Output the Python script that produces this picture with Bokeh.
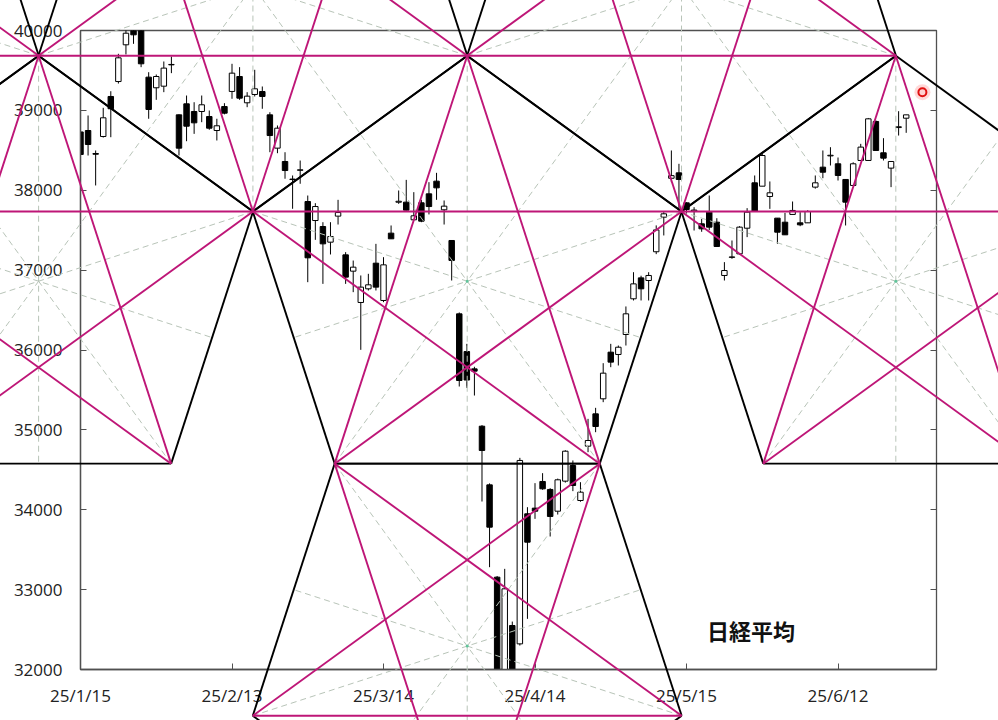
import math
from bokeh.plotting import figure
from bokeh.models import Range1d, LinearAxis, FixedTicker, Label, ColumnDataSource
from bokeh.embed import file_html
from bokeh.resources import INLINE

# ---------------- data ----------------
X_TICKS = [0, 20, 40, 60, 80, 100]
X_TICK_LABELS = ["25/1/15", "25/2/13", "25/3/14", "25/4/14", "25/5/15", "25/6/12"]
Y_TICKS = [32000, 33000, 34000, 35000, 36000, 37000, 38000, 39000, 40000]

OPEN = [38730, 38748, 38460, 38673, 39174, 39361, 39821, 40020, 40000, 39416,
        39283, 39303, 39575, 38944, 39082, 38986, 38986, 38923, 38748, 39048,
        39237, 39424, 39095, 39199, 39236, 38944, 38527, 38360, 38140, 38250,
        37859, 37621, 37546, 37350, 37676, 37191, 36987, 36595, 36766, 37087,
        36620, 37463, 37850, 37851, 37630, 37843, 37955, 38114, 37755, 37371,
        36453, 35981, 35764, 35046, 34312, 33156, 31800, 32551, 32321, 33949,
        34020, 34354, 34254, 33982, 34358, 34554, 34116, 34796, 35201, 35389,
        35973, 35944, 36194, 36641, 36903, 36870, 37230, 37663, 38150, 38218,
        37842, 37740, 37580, 37726, 37600, 36933, 37160, 37204, 37525, 38093,
        38051, 37922, 37651, 37600, 37697, 37592, 37592, 38039, 38289, 38430,
        38331, 38135, 38060, 38373, 38373, 38861, 38469, 38277, 38785, 38902]
HIGH = [38800, 38936, 38498, 39032, 39240, 39708, 40010, 40060, 40050, 39478,
        39449, 39612, 39674, 38950, 39186, 39102, 39186, 38998, 38895, 39090,
        39583, 39541, 39228, 39508, 39299, 38977, 38811, 38476, 38185, 38372,
        37934, 37838, 37600, 37600, 37880, 37225, 37120, 36933, 36954, 37329,
        37162, 37559, 37997, 38130, 37976, 37880, 38101, 38218, 37872, 37371,
        36470, 36077, 35790, 35060, 34330, 33170, 33260, 32600, 34650, 34032,
        34333, 34458, 34270, 34390, 34745, 34617, 34345, 35138, 35276, 35835,
        36077, 36056, 36545, 36974, 36930, 36974, 37560, 37726, 38498, 38331,
        37850, 37788, 37640, 37934, 37650, 37100, 37371, 37550, 37776, 38185,
        38455, 38110, 37651, 37717, 37859, 37726, 37750, 38185, 38498, 38539,
        38410, 38140, 38350, 38581, 38905, 38875, 38652, 38360, 38990, 38944]
LOW = [38400, 38435, 38060, 38660, 38664, 39336, 39700, 39833, 39541, 38895,
       39132, 39228, 39466, 38435, 38614, 38706, 38852, 38757, 38623, 38950,
       39145, 39132, 39040, 39174, 39020, 38476, 38464, 38144, 37768, 38081,
       36849, 37379, 36828, 37196, 37571, 36828, 36724, 36002, 36745, 36745,
       36599, 37392, 37830, 37746, 37625, 37600, 37697, 37880, 37571, 36870,
       35543, 35526, 35430, 34103, 33281, 30792, 31500, 31100, 32300, 32634,
       33886, 34250, 33665, 33940, 34340, 34233, 34100, 34721, 34971, 35347,
       35785, 35806, 36056, 36620, 36620, 36620, 37200, 37434, 38100, 37747,
       37700, 37496, 37480, 37500, 37290, 36870, 37142, 37190, 37413, 37730,
       38051, 37767, 37329, 37442, 37697, 37550, 37592, 38020, 38151, 38310,
       38122, 37559, 38060, 38373, 38373, 38498, 38373, 38039, 38685, 38719]
CLOSE = [38448, 38573, 38451, 38907, 39020, 39658, 39966, 39946, 39583, 39011,
         39424, 39529, 39570, 38527, 38802, 38844, 39070, 38777, 38807, 38965,
         39466, 39153, 39178, 39270, 39174, 38685, 38777, 38247, 38134, 38256,
         37154, 37796, 37329, 37421, 37721, 36912, 37037, 36787, 36816, 36787,
         37066, 37392, 37862, 37751, 37680, 37613, 37796, 38030, 37801, 37121,
         35618, 35624, 35735, 34742, 33782, 31136, 33010, 31714, 34617, 33594,
         33982, 34262, 33916, 34375, 34733, 34304, 34220, 34867, 35042, 35710,
         35848, 36035, 36453, 36828, 36766, 36933, 37503, 37705, 38183, 38135,
         37759, 37752, 37517, 37538, 37296, 36995, 37165, 37538, 37726, 37734,
         38435, 37968, 37475, 37442, 37747, 37567, 37734, 38093, 38226, 38438,
         38185, 37851, 38331, 38540, 38894, 38498, 38402, 38360, 38795, 38944]

# pentagon overlay construction (data units)
UP_CENTER_X = [-5.53, 51.05, 107.63]     # upright pentagon centres (trading-day index)
CENTER_PRICE = 36861                     # price level of the upright centres
PENTA_R = 2823                           # circumradius, in price units (vertical)
TOP_INVERTED = [-1, 0, 1]                # inverted pentagons between/left of upright ones
LOWER_INVERTED = [1]                     # inverted pentagon under the middle one
MARK_X = [111.14]
MARK_Y = [39228]
TITLE = "日経平均"
TITLE_X, TITLE_Y = 88.5, 32500

# ---------------- figure ----------------
W, H = 998, 720
BL, BR, BT, BB = 80, 62, 30, 51
X0, X1 = 0, 113
Y0, Y1 = 32000, 40000

p = figure(width=W, height=H, x_range=Range1d(X0, X1), y_range=Range1d(Y0, Y1),
           output_backend="svg", toolbar_location=None,
           min_border_left=BL, min_border_right=BR, min_border_top=BT, min_border_bottom=BB,
           background_fill_color="white", border_fill_color="white")
p.xgrid.visible = False
p.ygrid.visible = False
p.outline_line_color = "#505050"
p.outline_line_width = 1.3

FONT = "Open Sans"
for ax in (p.xaxis[0], p.yaxis[0]):
    ax.major_tick_in = 6
    ax.major_tick_out = 0
    ax.minor_tick_line_color = None
    ax.axis_line_color = "#505050"
    ax.axis_line_width = 1.3
    ax.major_tick_line_color = "#505050"
    ax.major_label_text_font = FONT
    ax.major_label_text_font_size = "17px"
    ax.major_label_text_color = "#222222"
p.xaxis.ticker = FixedTicker(ticks=X_TICKS)
p.xaxis.major_label_overrides = {t: l for t, l in zip(X_TICKS, X_TICK_LABELS)}
p.xaxis.major_label_standoff = 14
p.yaxis.ticker = FixedTicker(ticks=Y_TICKS)
p.yaxis.major_label_standoff = 18

rax = LinearAxis(ticker=FixedTicker(ticks=Y_TICKS), major_tick_in=6, major_tick_out=0,
                 minor_tick_line_color=None, major_label_text_color=None,
                 axis_line_color="#505050", major_tick_line_color="#505050")
p.add_layout(rax, "right")

# ---------------- candles ----------------
idx = list(range(len(OPEN)))
up = [c >= o for o, c in zip(OPEN, CLOSE)]
src = ColumnDataSource(dict(x=idx, o=OPEN, h=HIGH, l=LOW, c=CLOSE,
                            top=[max(o, c) for o, c in zip(OPEN, CLOSE)],
                            bot=[min(o, c) for o, c in zip(OPEN, CLOSE)],
                            fill=["white" if u else "black" for u in up]))
p.segment(x0="x", y0="h", x1="x", y1="l", source=src, line_color="black", line_width=1)
p.vbar(x="x", top="top", bottom="bot", width=0.72, source=src,
       fill_color="fill", line_color="black", line_width=1)

# ---------------- pentagon overlay ----------------
FW = W - BL - BR
FH = H - BT - BB
px_x = FW / (X1 - X0)
px_y = FH / (Y1 - Y0)
R_px = PENTA_R * px_y


def pentagon(cx, cy, upright):
    angs = [90, 18, -54, -126, 162] if upright else [-90, -18, 54, 126, 198]
    return [(cx + R_px * math.cos(math.radians(a)) / px_x,
             cy + R_px * math.sin(math.radians(a)) / px_y) for a in angs]


pents = [pentagon(cx, CENTER_PRICE, True) for cx in UP_CENTER_X]
half = (UP_CENTER_X[1] - UP_CENTER_X[0]) / 2
apo = R_px * math.cos(math.radians(36))
top_y = CENTER_PRICE + 2 * apo * math.sin(math.radians(54)) / px_y
low_y = CENTER_PRICE - 2 * apo / px_y
centres_inv = [(UP_CENTER_X[0] + half + k * 2 * half, top_y) for k in TOP_INVERTED]
centres_inv += [(UP_CENTER_X[k], low_y) for k in LOWER_INVERTED]
pents += [pentagon(cx, cy, False) for cx, cy in centres_inv]
centres = [(cx, CENTER_PRICE) for cx in UP_CENTER_X] + centres_inv

edges, diags, spokes = [], [], []
for pts in pents:
    for k in range(5):
        a, b = pts[k], pts[(k + 1) % 5]
        edges.append((a, b))
        d = pts[(k + 2) % 5]
        diags.append((a, d))
        m1, m2 = pts[(k + 2) % 5], pts[(k + 3) % 5]
        spokes.append((a, ((m1[0] + m2[0]) / 2, (m1[1] + m2[1]) / 2)))


def seg(lst, **kw):
    p.segment(x0=[s[0][0] for s in lst], y0=[s[0][1] for s in lst],
              x1=[s[1][0] for s in lst], y1=[s[1][1] for s in lst], level="overlay", **kw)


seg(spokes, line_color="#b8c4b8", line_width=1, line_dash="6 4")
seg(edges, line_color="black", line_width=1.9)
seg(diags, line_color="#BE1677", line_width=1.9)
p.scatter(x=[c[0] for c in centres], y=[c[1] for c in centres], size=3,
          fill_color="#5fc49a", line_color=None, level="overlay")

p.scatter(x=MARK_X, y=MARK_Y, size=16, fill_color="#ff9090", fill_alpha=0.35, line_color=None, level="overlay")
p.scatter(x=MARK_X, y=MARK_Y, size=8, fill_color="#ffd0d0", line_color="#e01010", line_width=2, level="overlay")

p.add_layout(Label(x=TITLE_X, y=TITLE_Y, text=TITLE, text_align="center", text_baseline="middle",
                   text_font="Noto Sans CJK JP", text_font_size="22px", text_font_style="bold",
                   text_color="#111111"))

open("out.html", "w").write(file_html(p, INLINE))
